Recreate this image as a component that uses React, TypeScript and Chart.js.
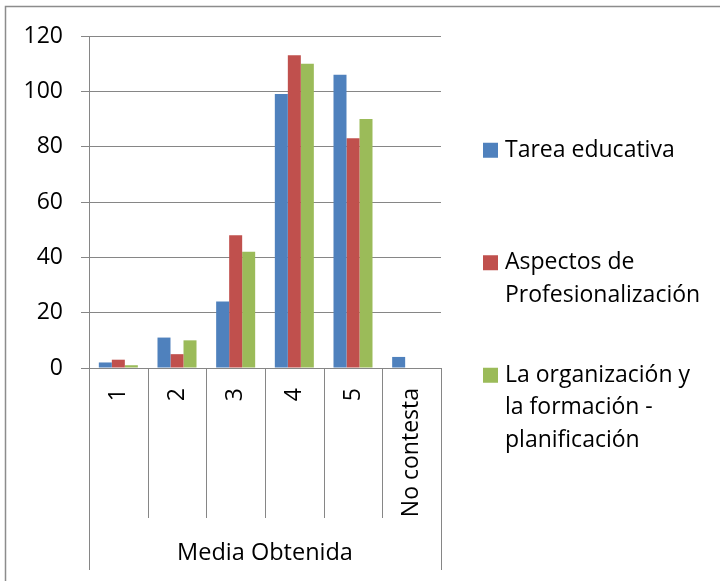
import React, { useEffect, useRef } from "react";
import { Chart, registerables } from "chart.js";

Chart.register(...registerables);

const categories = ["1", "2", "3", "4", "5", "No contesta"];
const tareaEducativa = [2, 11, 24, 99, 106, 4];
const aspectosProfesionalizacion = [3, 5, 48, 113, 83, 0];
const organizacionFormacion = [1, 10, 42, 110, 90, 0];
const legendLines = [
  ["Tarea educativa"],
  ["Aspectos de", "Profesionalización"],
  ["La organización y", "la formación -", "planificación"],
];
const seriesColors = ["#4F81BD", "#C0504D", "#9BBB59"];
const yTicks = [0, 20, 40, 60, 80, 100, 120];
const axisTitle = "Media Obtenida";

const FONT = "'Open Sans', 'Noto Sans', sans-serif";
const GRID = "#868686";

const decorPlugin = {
  id: "decor",
  afterDraw(chart: any) {
    const { ctx, chartArea } = chart;
    const x = chart.scales.x;
    ctx.save();
    // outer frame (left & top)
    ctx.strokeStyle = "#8c8c8c";
    ctx.lineWidth = 1.5;
    ctx.beginPath();
    ctx.moveTo(5.5, 581);
    ctx.lineTo(5.5, 6.5);
    ctx.lineTo(720, 6.5);
    ctx.stroke();

    // category separators
    ctx.strokeStyle = GRID;
    ctx.lineWidth = 1;
    const n = categories.length;
    const bounds: number[] = [];
    for (let i = 0; i <= n; i++) {
      if (i === 0) bounds.push(chartArea.left);
      else if (i === n) bounds.push(chartArea.right);
      else bounds.push((x.getPixelForValue(i - 1) + x.getPixelForValue(i)) / 2);
    }
    bounds.forEach((bx, i) => {
      const px = Math.round(bx) + 0.5;
      const end = i === 0 || i === n ? 570 : 518;
      ctx.beginPath();
      ctx.moveTo(px, chartArea.bottom);
      ctx.lineTo(px, end);
      ctx.stroke();
    });

    // legend
    const legendTop = 134;
    const spacing = 112.5;
    const lineH = 32.5;
    ctx.font = `23px ${FONT}`;
    ctx.textBaseline = "middle";
    ctx.textAlign = "left";
    legendLines.forEach((lines, i) => {
      const top = legendTop + i * spacing;
      ctx.fillStyle = seriesColors[i];
      ctx.fillRect(483, top + lineH / 2 - 7.5, 15, 15);
      ctx.fillStyle = "#000";
      lines.forEach((t, j) => {
        ctx.fillText(t, 505, top + lineH / 2 + j * lineH);
      });
    });
    ctx.restore();
  },
};

export default function App() {
  const ref = useRef<HTMLCanvasElement | null>(null);
  useEffect(() => {
    document.body.style.margin = "0";
    if (!ref.current) return;
    const chart = new Chart(ref.current, {
      type: "bar",
      data: {
        labels: categories,
        datasets: [
          { label: legendLines[0].join(" "), data: tareaEducativa, backgroundColor: seriesColors[0] },
          { label: legendLines[1].join(" "), data: aspectosProfesionalizacion, backgroundColor: seriesColors[1] },
          { label: legendLines[2].join(" "), data: organizacionFormacion, backgroundColor: seriesColors[2] },
        ],
      },
      options: {
        responsive: false,
        animation: false,
        layout: { padding: { top: 36, right: 279, left: 0, bottom: 0 } },
        datasets: { bar: { barPercentage: 1, categoryPercentage: 0.665 } },
        plugins: { legend: { display: false }, tooltip: { enabled: false } },
        scales: {
          x: {
            grid: { display: false, drawTicks: false },
            border: { display: true, color: GRID },
            ticks: {
              minRotation: 90,
              maxRotation: 90,
              autoSkip: false,
              padding: 20,
              color: "#000",
              font: { family: FONT, size: 23 },
            },
            title: {
              display: true,
              text: axisTitle,
              color: "#000",
              font: { family: FONT, size: 23.5 },
              padding: { top: 0, bottom: 14 },
            },
            afterFit: (s: any) => {
              s.height = 213;
            },
          },
          y: {
            min: 0,
            max: 120,
            afterBuildTicks: (s: any) => {
              s.ticks = yTicks.map((v) => ({ value: v }));
            },
            grid: { color: GRID, tickLength: 8, drawTicks: true },
            border: { display: true, color: GRID },
            ticks: {
              padding: 18,
              color: "#000",
              font: { family: FONT, size: 23 },
            },
            afterFit: (s: any) => {
              s.width = 89;
            },
          },
        },
      },
      plugins: [decorPlugin],
    });
    return () => chart.destroy();
  }, []);
  return (
    <div style={{ width: 720, height: 581, background: "#fff" }}>
      <canvas ref={ref} width={720} height={581} />
    </div>
  );
}
